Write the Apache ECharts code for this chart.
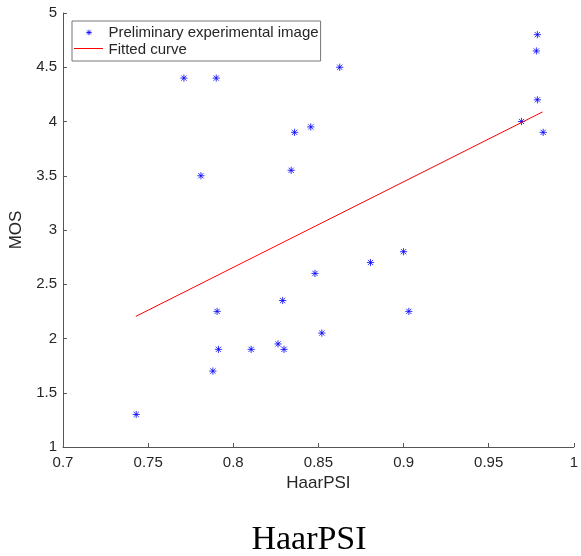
<!DOCTYPE html>
<html>
<head>
<meta charset="utf-8">
<script src="https://cdn.jsdelivr.net/npm/echarts@6/dist/echarts.min.js"></script>
<style>
  html, body { margin: 0; padding: 0; background: #fff; }
  #chart { width: 581px; height: 556px; }
</style>
</head>
<body>
<div id="chart"></div>
<script>
// HaarPSI vs MOS
const haarPSI = [0.743, 0.771, 0.781, 0.788, 0.790, 0.7905, 0.7913, 0.8105, 0.8263, 0.829, 0.8298,
  0.834, 0.836, 0.8455, 0.848, 0.852, 0.8625, 0.8806, 0.900, 0.9031, 0.9693, 0.978, 0.9786, 0.9786, 0.982]
const mos = [1.3, 4.4, 3.5, 1.7, 4.4, 2.25, 1.9, 1.9, 1.95, 2.35, 1.9,
  3.55, 3.9, 3.95, 2.6, 2.05, 4.5, 2.7, 2.8, 2.25, 4.0, 4.65, 4.8, 4.2, 3.9]
const fitX = [0.7428, 0.9816]
const fitY = [2.204, 4.088]

const xTicks = { min: 0.7, max: 1, step: 0.05 }
const yTicks = { min: 1, max: 5, step: 0.5 }

// asterisk marker, padded with move-to corners so the legend icon stays small
const star = 'path://M-10,-10M10,10M0,-4L0,4M-4,0L4,0M-2.9,-2.9L2.9,2.9M-2.9,2.9L2.9,-2.9'

const font = 'Liberation Sans, Arial, sans-serif'
const axisColor = '#555'
const textColor = '#262626'
const blue = '#0000ff'
const red = '#ff0000'

const chart = echarts.init(document.getElementById('chart'))

chart.setOption({
  animation: false,
  backgroundColor: '#fff',
  grid: { left: 63, right: 4, top: 13, bottom: 109 },
  legend: {
    orient: 'vertical',
    left: 72,
    top: 21,
    padding: [4, 2, 4, 2],
    itemWidth: 29,
    itemHeight: 14,
    itemGap: 2,
    borderColor: '#777',
    borderWidth: 1,
    borderRadius: 0,
    textStyle: { fontFamily: font, fontSize: 15, color: textColor },
    data: [
      {
        name: 'Preliminary experimental image',
        icon: star,
        itemStyle: { color: 'rgba(0,0,0,0)', borderColor: blue, borderWidth: 1 }
      },
      {
        // icon hidden here, the red sample line is drawn in graphic below
        name: 'Fitted curve',
        itemStyle: { opacity: 0 },
        lineStyle: { opacity: 0, width: 1 }
      }
    ]
  },
  xAxis: {
    type: 'value',
    min: xTicks.min,
    max: xTicks.max,
    interval: xTicks.step,
    name: 'HaarPSI',
    nameLocation: 'middle',
    nameGap: 28,
    nameTextStyle: { fontFamily: font, fontSize: 17, color: textColor, verticalAlign: 'top' },
    axisLine: { lineStyle: { color: axisColor, width: 1 } },
    axisTick: { inside: true, length: 4, lineStyle: { color: axisColor } },
    axisLabel: { fontFamily: font, fontSize: 15, color: textColor, margin: 8 },
    splitLine: { show: false }
  },
  yAxis: {
    type: 'value',
    min: yTicks.min,
    max: yTicks.max,
    interval: yTicks.step,
    name: 'MOS',
    nameLocation: 'middle',
    nameGap: 36,
    nameRotate: 90,
    nameTextStyle: { fontFamily: font, fontSize: 17, color: textColor },
    axisLine: { show: true, lineStyle: { color: axisColor, width: 1 } },
    axisTick: { show: true, inside: true, length: 4, lineStyle: { color: axisColor } },
    axisLabel: { fontFamily: font, fontSize: 15, color: textColor, margin: 6 },
    splitLine: { show: false }
  },
  series: [
    {
      name: 'Preliminary experimental image',
      type: 'scatter',
      symbol: star,
      symbolSize: 18,
      itemStyle: { color: 'rgba(0,0,0,0)', borderColor: blue, borderWidth: 1 },
      data: haarPSI.map((x, i) => [x, mos[i]])
    },
    {
      name: 'Fitted curve',
      type: 'line',
      showSymbol: false,
      symbol: 'none',
      lineStyle: { color: red, width: 1 },
      itemStyle: { color: red },
      data: fitX.map((x, i) => [x, fitY[i]])
    }
  ],
  graphic: [
    {
      type: 'line',
      z: 100,
      shape: { x1: 74, y1: 48.5, x2: 103, y2: 48.5 },
      style: { stroke: red, lineWidth: 1 }
    },
    {
      type: 'text',
      x: 309,
      y: 540,
      style: {
        text: 'HaarPSI',
        fontFamily: 'Liberation Serif, Times New Roman, serif',
        fontSize: 34,
        fill: '#000',
        align: 'center',
        verticalAlign: 'middle'
      }
    }
  ]
})
</script>
</body>
</html>
